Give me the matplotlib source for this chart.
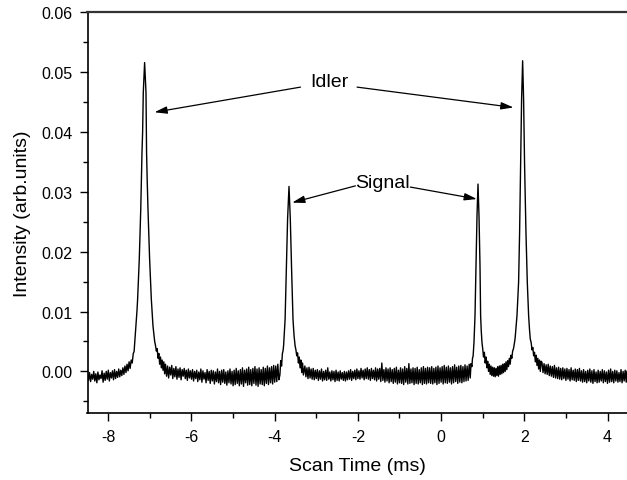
import numpy as np
import matplotlib
matplotlib.use("Agg")
import matplotlib.pyplot as plt
from matplotlib.ticker import MultipleLocator, FormatStrFormatter

plt.rcParams["font.family"] = ["Liberation Sans", "DejaVu Sans"]
plt.rcParams["axes.unicode_minus"] = False

# ---- trace, segment by segment (x in ms, y in arb. units)
# baseline left of the first idler peak
base_a_x = [-8.500, -8.475, -8.450, -8.425, -8.400, -8.375, -8.350, -8.325, -8.300, -8.275,
            -8.250, -8.225, -8.200, -8.175, -8.150, -8.125, -8.100, -8.075, -8.050, -8.025,
            -8.000, -7.975, -7.950, -7.925, -7.900, -7.875, -7.850, -7.825, -7.800, -7.775,
            -7.750, -7.725, -7.700, -7.675, -7.650, -7.625, -7.600]
base_a_y = [-0.0003, -0.0015, -0.0002, -0.0017, -0.0005, -0.0013, 0.0000, -0.0016, -0.0004, -0.0019,
            -0.0001, -0.0014, -0.0006, -0.0012, 0.0001, -0.0018, -0.0003, -0.0015, 0.0000, -0.0013,
            0.0002, -0.0016, -0.0002, -0.0011, 0.0001, -0.0014, 0.0003, -0.0012, 0.0000, -0.0010,
            0.0004, -0.0009, 0.0002, -0.0007, 0.0006, -0.0005, 0.0009]

# idler peak at about -7.13 ms
idler1_x = [-7.575, -7.55, -7.525, -7.50, -7.475, -7.45, -7.425, -7.40, -7.38, -7.36,
            -7.335, -7.31, -7.295, -7.275, -7.255, -7.22, -7.19, -7.175, -7.159, -7.127,
            -7.094, -7.08, -7.065, -7.046, -7.007, -6.985, -6.966, -6.945, -6.926, -6.905,
            -6.885, -6.865, -6.845, -6.825, -6.805, -6.785, -6.765, -6.745, -6.725, -6.705,
            -6.685, -6.665, -6.645]
idler1_y = [-0.0002, 0.0012, 0.0001, 0.0016, 0.0005, 0.0019, 0.0014, 0.0030, 0.0033, 0.0052,
            0.0076, 0.0102, 0.0121, 0.0155, 0.0188, 0.0271, 0.0366, 0.0400, 0.0466, 0.0516,
            0.0466, 0.0366, 0.0320, 0.0271, 0.0188, 0.0152, 0.0121, 0.0098, 0.0076, 0.0062,
            0.0050, 0.0043, 0.0034, 0.0038, 0.0022, 0.0030, 0.0012, 0.0024, 0.0006, 0.0019,
            0.0002, 0.0016, -0.0004]

# baseline between idler and first signal peak
base_b_x = [-6.625, -6.600, -6.575, -6.550, -6.525, -6.500, -6.475, -6.450, -6.425, -6.400,
            -6.375, -6.350, -6.325, -6.300, -6.275, -6.250, -6.225, -6.200, -6.175, -6.150,
            -6.125, -6.100, -6.075, -6.050, -6.025, -6.000,
            -5.975, -5.950, -5.925, -5.900, -5.875, -5.850, -5.825, -5.800, -5.775, -5.750,
            -5.725, -5.700, -5.675, -5.650, -5.625, -5.600, -5.575, -5.550, -5.525, -5.500,
            -5.475, -5.450, -5.425, -5.400, -5.375, -5.350, -5.325, -5.300, -5.275, -5.250,
            -5.225, -5.200, -5.175, -5.150, -5.125, -5.100, -5.075, -5.050, -5.025, -5.000,
            -4.975, -4.950, -4.925, -4.900, -4.875, -4.850, -4.825, -4.800, -4.775, -4.750,
            -4.725, -4.700, -4.675, -4.650, -4.625, -4.600, -4.575, -4.550, -4.525, -4.500,
            -4.475, -4.450, -4.425, -4.400, -4.375, -4.350, -4.325, -4.300, -4.275, -4.250,
            -4.225, -4.200, -4.175, -4.150, -4.125, -4.100, -4.075, -4.050, -4.025, -4.000,
            -3.975, -3.950, -3.925, -3.900]
base_b_y = [0.0012, -0.0008, 0.0009, -0.0011, 0.0007, -0.0006, 0.0010, -0.0012, 0.0005, -0.0009,
            0.0008, -0.0013, 0.0004, -0.0010, 0.0006, -0.0014, 0.0003, -0.0008, 0.0005, -0.0012,
            0.0002, -0.0015, 0.0004, -0.0011, 0.0001, -0.0013,
            0.0003, -0.0016, 0.0000, -0.0012, 0.0002, -0.0017, -0.0001, -0.0014, 0.0004, -0.0018,
            0.0001, -0.0013, -0.0002, -0.0019, 0.0003, -0.0015, 0.0000, -0.0020, 0.0002, -0.0016,
            0.0001, -0.0021, -0.0001, -0.0017, 0.0004, -0.0019, 0.0000, -0.0022, 0.0002, -0.0018,
            0.0003, -0.0020, -0.0001, -0.0023, 0.0001, -0.0019, 0.0004, -0.0021, 0.0000, -0.0024,
            0.0002, -0.0022, 0.0005, -0.0020, 0.0001, -0.0024, 0.0003, -0.0021, 0.0006, -0.0025,
            0.0002, -0.0019, 0.0004, -0.0023, 0.0007, -0.0022, 0.0003, -0.0024, 0.0005, -0.0020,
            0.0008, -0.0023, 0.0004, -0.0025, 0.0006, -0.0021, 0.0003, -0.0022, 0.0007, -0.0024,
            0.0005, -0.0020, 0.0009, -0.0022, 0.0006, -0.0019, 0.0008, -0.0021, 0.0010, -0.0018,
            0.0009, -0.0017, 0.0012, -0.0014]

# signal peak at about -3.66 ms
signal1_x = [-3.875, -3.855, -3.835, -3.815, -3.80, -3.786, -3.75, -3.72, -3.69, -3.656,
             -3.625, -3.594, -3.56, -3.535, -3.51, -3.49, -3.47, -3.45, -3.43, -3.41,
             -3.39, -3.37, -3.35, -3.33, -3.31]
signal1_y = [-0.0006, 0.0018, 0.0009, 0.0030, 0.0034, 0.0043, 0.0087, 0.0171, 0.0255, 0.0309,
             0.0255, 0.0171, 0.0087, 0.0060, 0.0043, 0.0036, 0.0026, 0.0031, 0.0014, 0.0024,
             0.0006, 0.0019, -0.0002, 0.0014, -0.0006]

# long baseline between the two signal peaks
base_c_x = [-3.275, -3.250, -3.225, -3.200, -3.175, -3.150, -3.125, -3.100, -3.075, -3.050,
            -3.025, -3.000, -2.975, -2.950, -2.925, -2.900, -2.875, -2.850, -2.825, -2.800,
            -2.775, -2.750, -2.725, -2.700, -2.675, -2.650, -2.625, -2.600, -2.575, -2.550,
            -2.525, -2.500, -2.475, -2.450, -2.425, -2.400, -2.375, -2.350, -2.325, -2.300,
            -2.275, -2.250, -2.225, -2.200, -2.175, -2.150, -2.125, -2.100, -2.075, -2.050,
            -2.025, -2.000, -1.975, -1.950, -1.925, -1.900, -1.875, -1.850, -1.825, -1.800,
            -1.775, -1.750, -1.725, -1.700, -1.675, -1.650, -1.625, -1.600, -1.575, -1.550,
            -1.525, -1.500, -1.475, -1.450, -1.425, -1.400, -1.375, -1.350, -1.325, -1.300,
            -1.275, -1.250, -1.225, -1.200, -1.175, -1.150, -1.125, -1.100, -1.075, -1.050,
            -1.025, -1.000, -0.975, -0.950, -0.925, -0.900, -0.875, -0.850, -0.825, -0.800,
            -0.775, -0.750, -0.725, -0.700, -0.675, -0.650, -0.625, -0.600, -0.575, -0.550,
            -0.525, -0.500, -0.475, -0.450, -0.425, -0.400, -0.375, -0.350, -0.325, -0.300,
            -0.275, -0.250, -0.225, -0.200, -0.175, -0.150, -0.125, -0.100, -0.075, -0.050,
            -0.025, 0.000, 0.025, 0.050, 0.075, 0.100, 0.125, 0.150, 0.175, 0.200,
            0.225, 0.250, 0.275, 0.300, 0.325, 0.350, 0.375, 0.400, 0.425, 0.450,
            0.475, 0.500, 0.525, 0.550, 0.575, 0.600, 0.625, 0.650, 0.675, 0.700]
base_c_y = [0.0009, -0.0009, 0.0006, -0.0012, 0.0007, -0.0011, 0.0004, -0.0013, 0.0005, -0.0014,
            0.0002, -0.0012, 0.0003, -0.0015, 0.0001, -0.0013, 0.0004, -0.0016, 0.0000, -0.0014,
            0.0002, -0.0015, 0.0006, -0.0013, -0.0001, -0.0016, 0.0001, -0.0014, 0.0000, -0.0017,
            0.0002, -0.0015, -0.0001, -0.0016, 0.0001, -0.0013, -0.0002, -0.0015, 0.0000, -0.0016,
            -0.0001, -0.0014, 0.0001, -0.0013, 0.0003, -0.0015, 0.0000, -0.0012, 0.0002, -0.0014,
            0.0004, -0.0012, 0.0001, -0.0013, 0.0005, -0.0011, 0.0002, -0.0014, 0.0004, -0.0012,
            0.0006, -0.0013, 0.0003, -0.0015, 0.0005, -0.0012, 0.0002, -0.0014, 0.0006, -0.0016,
            0.0004, -0.0013, 0.0005, -0.0017, 0.0014, -0.0015, 0.0003, -0.0018, 0.0006, -0.0016,
            0.0004, -0.0019, 0.0006, -0.0017, 0.0003, -0.0020, 0.0005, -0.0018, 0.0007, -0.0021,
            0.0002, -0.0019, 0.0006, -0.0020, 0.0004, -0.0022, 0.0008, -0.0018, 0.0005, -0.0021,
            0.0013, -0.0020, 0.0004, -0.0019, 0.0006, -0.0022, 0.0005, -0.0020, 0.0007, -0.0021,
            0.0003, -0.0019, 0.0006, -0.0022, 0.0008, -0.0020, 0.0005, -0.0021, 0.0007, -0.0019,
            0.0006, -0.0020, 0.0008, -0.0021, 0.0005, -0.0019, 0.0007, -0.0022, 0.0009, -0.0020,
            0.0006, -0.0018, 0.0008, -0.0021, 0.0010, -0.0019, 0.0007, -0.0020, 0.0009, -0.0018,
            0.0006, -0.0021, 0.0008, -0.0019, 0.0011, -0.0017, 0.0007, -0.0020, 0.0009, -0.0018,
            0.0010, -0.0019, 0.0008, -0.0017, 0.0011, -0.0016, 0.0009, -0.0015, 0.0012, -0.0011]

# second signal peak (~0.89 ms), valley, second idler peak (~1.96 ms)
pair2_x = [0.72, 0.74, 0.755, 0.77, 0.79, 0.815, 0.839, 0.863, 0.887, 0.911,
           0.935, 0.95, 0.965, 0.983, 1.00,
           1.02, 1.04, 1.06, 1.08, 1.10, 1.12, 1.14, 1.16, 1.18, 1.20,
           1.22, 1.24, 1.26, 1.28, 1.30, 1.32, 1.34, 1.36, 1.38, 1.40,
           1.42, 1.44, 1.46, 1.48, 1.50, 1.52, 1.54, 1.56, 1.58, 1.60,
           1.62, 1.64, 1.66, 1.68, 1.70, 1.72, 1.74, 1.76, 1.78, 1.80,
           1.824, 1.863, 1.887, 1.911, 1.935, 1.96, 1.983, 2.007, 2.04, 2.072,
           2.104, 2.125, 2.144,
           2.165, 2.185, 2.205, 2.225, 2.245, 2.265, 2.285, 2.305, 2.325, 2.345,
           2.365, 2.385, 2.405]
pair2_y = [0.0013, 0.0008, 0.0022, 0.0026, 0.0048, 0.0093, 0.0177, 0.0260, 0.0313, 0.0260,
           0.0177, 0.0093, 0.0068, 0.0048, 0.0038,
           0.0024, 0.0032, 0.0014, 0.0024, 0.0006, 0.0017, 0.0000, 0.0012, -0.0005, 0.0009,
           -0.0007, 0.0007, -0.0008, 0.0006, -0.0009, 0.0005, -0.0007, 0.0008, -0.0008, 0.0009,
           -0.0005, 0.0010, -0.0004, 0.0012, -0.0002, 0.0013, 0.0000, 0.0016, 0.0003, 0.0018,
           0.0008, 0.0022, 0.0012, 0.0027, 0.0022, 0.0034, 0.0038, 0.0046, 0.0056, 0.0072,
           0.0093, 0.0149, 0.0232, 0.0344, 0.0455, 0.0519, 0.0455, 0.0344, 0.0232, 0.0149,
           0.0093, 0.0070, 0.0054,
           0.0048, 0.0036, 0.0040, 0.0026, 0.0032, 0.0016, 0.0027, 0.0010, 0.0022, 0.0004,
           0.0019, 0.0000, 0.0017]

# baseline right of the second idler
base_d_x = [2.425, 2.450, 2.475, 2.500, 2.525, 2.550, 2.575, 2.600, 2.625, 2.650,
            2.675, 2.700, 2.725, 2.750, 2.775, 2.800, 2.825, 2.850, 2.875, 2.900,
            2.925, 2.950, 2.975, 3.000, 3.025, 3.050, 3.075, 3.100, 3.125, 3.150,
            3.175, 3.200, 3.225, 3.250, 3.275, 3.300, 3.325, 3.350, 3.375, 3.400,
            3.425, 3.450, 3.475, 3.500, 3.525, 3.550, 3.575, 3.600, 3.625, 3.650,
            3.675, 3.700, 3.725, 3.750, 3.775, 3.800, 3.825, 3.850, 3.875, 3.900,
            3.925, 3.950, 3.975, 4.000, 4.025, 4.050, 4.075, 4.100, 4.125, 4.150,
            4.175, 4.200, 4.225, 4.250, 4.275, 4.300, 4.325, 4.350, 4.375, 4.400,
            4.425, 4.450, 4.475, 4.500]
base_d_y = [0.0015, -0.0002, 0.0013, -0.0004, 0.0011, -0.0005, 0.0012, -0.0007, 0.0009, -0.0008,
            0.0008, -0.0010, 0.0010, -0.0011, 0.0006, -0.0012, 0.0007, -0.0013, 0.0005, -0.0014,
            0.0006, -0.0012, 0.0004, -0.0015, 0.0005, -0.0013, 0.0003, -0.0016, 0.0006, -0.0014,
            0.0002, -0.0015, 0.0004, -0.0017, 0.0003, -0.0015, 0.0005, -0.0016, 0.0001, -0.0018,
            0.0003, -0.0017, 0.0000, -0.0019, 0.0002, -0.0016, 0.0004, -0.0018, 0.0001, -0.0020,
            0.0003, -0.0017, -0.0001, -0.0019, 0.0002, -0.0018, 0.0000, -0.0016, 0.0003, -0.0019,
            0.0001, -0.0017, -0.0001, -0.0020, 0.0002, -0.0018, 0.0004, -0.0017, 0.0000, -0.0019,
            0.0002, -0.0016, 0.0001, -0.0018, -0.0002, -0.0017, 0.0003, -0.0019, 0.0000, -0.0016,
            0.0002, -0.0018, 0.0001, -0.0015]

# annotation labels and arrows: (text, text pos, [(arrow start, arrow tip), ...])
idler_label = "Idler"
idler_pos = (-2.68, 0.0484)
idler_arrows = [((-3.38, 0.0475), (-6.89, 0.0433)), ((-2.02, 0.0475), (1.74, 0.0441))]
signal_label = "Signal"
signal_pos = (-1.40, 0.0316)
signal_arrows = [((-2.06, 0.0310), (-3.58, 0.0282)), ((-0.74, 0.0308), (0.86, 0.0288))]


def main():
    segments_x = [base_a_x, idler1_x, base_b_x, signal1_x, base_c_x, pair2_x, base_d_x]
    segments_y = [base_a_y, idler1_y, base_b_y, signal1_y, base_c_y, pair2_y, base_d_y]
    scan_x = np.concatenate(segments_x)
    scan_y = np.concatenate(segments_y)

    fig = plt.figure(figsize=(6.27, 4.81), dpi=100)
    ax = fig.add_axes([87.5 / 627, 1 - 414.3 / 481, 540.8 / 627, (414.3 - 13.3) / 481])

    ax.plot(scan_x, scan_y, color="black", lw=1.0)

    ax.set_xlim(-8.5, 4.5)
    ax.set_ylim(-0.007, 0.06)
    ax.xaxis.set_major_locator(MultipleLocator(2))
    ax.xaxis.set_minor_locator(MultipleLocator(1))
    ax.yaxis.set_major_locator(MultipleLocator(0.01))
    ax.yaxis.set_minor_locator(MultipleLocator(0.005))
    ax.yaxis.set_major_formatter(FormatStrFormatter("%.2f"))
    ax.tick_params(which="major", direction="out", length=6, width=1.0, labelsize=11.5, pad=5)
    ax.tick_params(which="minor", direction="out", length=3.5, width=1.0)

    ax.spines["right"].set_visible(False)
    for side in ["left", "bottom"]:
        ax.spines[side].set_linewidth(1.2)
    ax.spines["top"].set_linewidth(1.6)
    ax.spines["top"].set_color("#333333")

    ax.set_xlabel("Scan Time (ms)", fontsize=14, labelpad=10)
    ax.set_ylabel("Intensity (arb.units)", fontsize=14, labelpad=7)

    arrow_style = dict(arrowstyle="-|>,head_length=0.75,head_width=0.22", color="black",
                       lw=0.9, shrinkA=0, shrinkB=0, mutation_scale=10)
    ax.text(idler_pos[0], idler_pos[1], idler_label, fontsize=14, ha="center", va="center")
    for start, tip in idler_arrows:
        ax.annotate("", xy=tip, xytext=start, arrowprops=arrow_style)
    ax.text(signal_pos[0], signal_pos[1], signal_label, fontsize=14, ha="center", va="center")
    for start, tip in signal_arrows:
        ax.annotate("", xy=tip, xytext=start, arrowprops=arrow_style)

    fig.savefig("out.png", dpi=100)
    plt.close(fig)


if __name__ == "__main__":
    main()
